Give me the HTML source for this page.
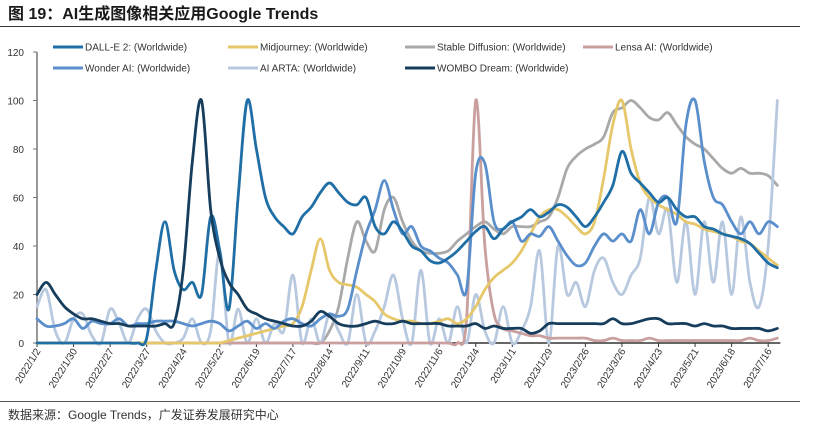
<!DOCTYPE html>
<html><head><meta charset="utf-8">
<style>
body{margin:0;background:#fff;width:813px;height:443px;overflow:hidden;font-family:"Liberation Sans","Noto Sans CJK SC",sans-serif;}
svg{position:absolute;left:0;top:0}
</style></head>
<body>
<svg id="chart" width="813" height="443">
<text x="8" y="19" font-size="16" font-weight="bold" fill="#1a1a1a" font-family="Liberation Sans, Noto Sans CJK SC, sans-serif">图 19：AI生成图像相关应用Google Trends</text>
<line x1="0" y1="26.5" x2="800" y2="26.5" stroke="#333" stroke-width="1"/>
<line x1="0" y1="401.5" x2="800" y2="401.5" stroke="#555" stroke-width="1"/>
<text x="8" y="419" font-size="12" fill="#333" font-family="Liberation Sans, Noto Sans CJK SC, sans-serif">数据来源：Google Trends，广发证券发展研究中心</text>
<g id="axes"></g><g id="series"></g><g id="legend"></g>
</svg>
<script>
const categories=["2022/1/2","2022/1/30","2022/2/27","2022/3/27","2022/4/24","2022/5/22","2022/6/19","2022/7/17","2022/8/14","2022/9/11","2022/10/9","2022/11/6","2022/12/4","2023/1/1","2023/1/29","2023/2/26","2023/3/26","2023/4/23","2023/5/21","2023/6/18","2023/7/16"];
const yTicks=[0,20,40,60,80,100,120];
const seriesNames=["DALL-E 2: (Worldwide)","Midjourney: (Worldwide)","Stable Diffusion: (Worldwide)","Lensa AI: (Worldwide)","Wonder AI: (Worldwide)","AI ARTA: (Worldwide)","WOMBO Dream: (Worldwide)"];
const dalle=[0,0,0,0,0,0,0,0,0,0,0,0,2,30,50,30,22,25,20,52,38,14,60,100,80,60,52,48,45,52,56,62,66,62,58,57,60,48,45,50,46,40,38,34,33,35,38,42,46,48,43,47,50,52,55,52,54,57,56,52,48,52,58,65,79,70,66,62,58,60,55,52,52,48,47,45,44,43,41,37,33,31];
const midjourney=[0,0,0,0,0,0,0,0,0,0,0,0,0,0,0,0,0,0,0,0,0,1,2,3,4,5,6,7,8,15,30,43,30,25,24,23,20,17,12,10,9,9,8,8,9,10,8,10,15,22,27,30,33,38,45,52,55,55,52,48,45,50,68,90,100,80,66,60,57,55,53,50,49,47,46,45,44,42,41,38,35,32];
const stable=[0,0,0,0,0,0,0,0,0,0,0,0,0,0,0,0,0,0,0,0,0,0,0,0,0,0,0,0,0,0,0,0,5,15,35,50,42,38,55,60,50,42,38,37,37,38,42,45,48,50,47,45,48,48,48,50,52,60,72,77,80,82,85,95,97,100,97,93,92,95,90,85,82,80,76,72,70,72,70,70,69,65];
const lensa=[0,0,0,0,0,0,0,0,0,0,0,0,0,0,0,0,0,0,0,0,0,0,0,0,0,0,0,0,0,0,0,0,0,0,0,0,0,0,0,0,0,0,0,0,0,0,0,10,100,40,12,6,5,4,3,3,2,2,2,2,2,1,1,2,1,1,1,2,1,1,1,1,1,1,1,1,1,1,2,1,1,2];
const wonder=[10,7,7,8,10,6,9,8,8,10,7,8,8,9,9,9,8,7,8,9,8,5,7,9,6,8,6,9,10,8,7,10,12,11,14,30,45,55,67,55,45,48,40,38,35,33,28,22,70,74,50,47,50,42,45,44,48,42,36,32,33,40,45,42,45,42,55,45,58,60,50,90,100,75,60,57,50,45,50,45,50,48];
const aiarta=[15,22,5,0,10,12,3,0,14,8,0,10,14,5,0,0,2,10,0,5,38,0,14,0,10,0,8,5,28,0,10,0,12,5,0,20,0,5,15,28,10,0,30,0,10,0,15,0,20,5,0,15,0,5,15,38,0,40,20,25,15,30,35,25,20,28,35,60,45,55,25,50,20,50,25,50,20,52,25,15,40,100];
const wombo=[20,25,20,15,12,10,10,9,8,8,7,7,7,7,8,8,30,75,100,55,35,25,20,14,12,10,9,8,7,7,9,13,11,8,7,7,8,9,8,8,9,8,8,8,8,7,7,7,8,6,7,6,6,6,4,5,8,8,8,8,8,8,8,10,8,8,9,10,10,8,8,8,7,8,7,7,6,6,6,6,5,6];
const allSeries=[dalle,midjourney,stable,lensa,wonder,aiarta,wombo];
const colors=["#1f6ea5","#e6c76a","#a9a9a9","#c9a09e","#5b8fcc","#b8c9df","#173d5c"];
const drawOrder=[2,5,3,1,4,0,6];

const NS="http://www.w3.org/2000/svg";
const X0=37,DX=9.14,Y0=343,PY=2.425;
const xs=i=>X0+i*DX;
const ys=v=>Y0-v*PY;
function mk(tag,attrs,parent){const e=document.createElementNS(NS,tag);for(const k in attrs)e.setAttribute(k,attrs[k]);parent.appendChild(e);return e;}
const axes=document.getElementById('axes');
let yl=mk('line',{x1:X0,y1:ys(120),x2:X0,y2:Y0,stroke:'#777','stroke-width':1.5},axes);


yTicks.forEach(t=>{
  const tk=mk('line',{x1:X0-4,y1:ys(t),x2:X0,y2:ys(t),stroke:'#777'},axes);
  
  
  const lb=mk('text',{x:24,y:ys(t)+4,'font-size':10,'text-anchor':'end',fill:'#333','font-family':'Liberation Sans, sans-serif'},axes);
  lb.textContent=t;
  
  
});
let xl=mk('line',{x1:X0,y1:Y0,x2:xs(81)+3,y2:Y0,stroke:'#333','stroke-width':1.5},axes);


categories.forEach((c,k)=>{
  const x=xs(k*4);
  const tk=mk('line',{x1:x,y1:Y0,x2:x,y2:Y0+4,stroke:'#333'},axes);
  
  
  const lb=mk('text',{x:x+4,y:Y0+8,'font-size':10,'text-anchor':'end',fill:'#333','font-family':'Liberation Sans, sans-serif',transform:`rotate(-58 ${x+4} ${Y0+8})`},axes);
  lb.textContent=c;
  
  
});
function smooth(vals){
  const p=vals.map((v,i)=>[xs(i),ys(v)]);
  let d=`M${p[0][0]},${p[0][1]}`;
  for(let i=0;i<p.length-1;i++){
    const p0=p[i-1]||p[i],p1=p[i],p2=p[i+1],p3=p[i+2]||p2,t=6;
    d+=` C${p1[0]+(p2[0]-p0[0])/t},${p1[1]+(p2[1]-p0[1])/t} ${p2[0]-(p3[0]-p1[0])/t},${p2[1]-(p3[1]-p1[1])/t} ${p2[0]},${p2[1]}`;
  }
  return d;
}
const sg=document.getElementById('series');
drawOrder.forEach(si=>{
  const path=mk('path',{d:smooth(allSeries[si]),fill:'none',stroke:colors[si],'stroke-width':2.8,'stroke-linejoin':'round','stroke-linecap':'round'},sg);
  
  
});
const lg=document.getElementById('legend');
const lpos=[[53,47],[228,47],[405,47],[583,47],[53,68],[228,68],[405,68]];
seriesNames.forEach((n,i)=>{
  const [x,y]=lpos[i];
  const g=mk('g',{},lg);
  
  
  mk('line',{x1:x,y1:y,x2:x+30,y2:y,stroke:colors[i],'stroke-width':3},g);
  const t=mk('text',{x:x+32,y:y+3.5,'font-size':10,fill:'#333','font-family':'Liberation Sans, sans-serif'},g);
  t.textContent=n;
});
</script>
</body></html>
